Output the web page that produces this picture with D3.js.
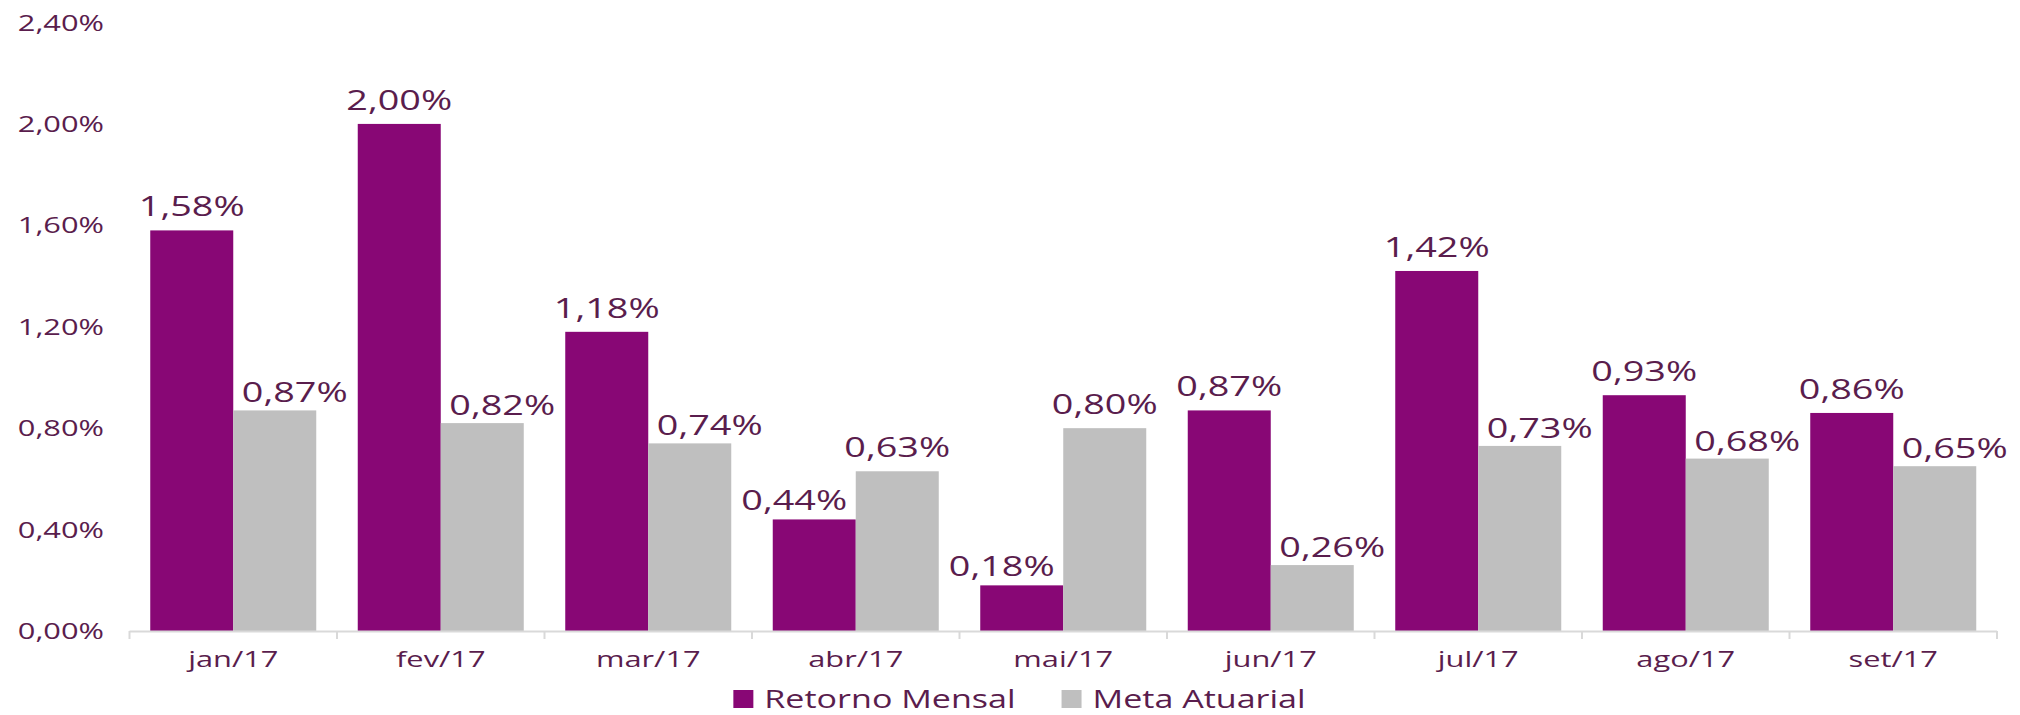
<!DOCTYPE html>
<html>
<head>
<meta charset="utf-8">
<script src="https://cdn.jsdelivr.net/npm/d3@7"></script>
<style>
  html, body { margin: 0; padding: 0; background: #fff; }
  svg { display: block; }
  text { font-family: "Open Sans", "Noto Sans", sans-serif; fill: #5a1d4d; }
</style>
</head>
<body>
<svg id="chart" width="2020" height="715"></svg>
<script>
// ---- data ----
const categories = ["jan/17", "fev/17", "mar/17", "abr/17", "mai/17", "jun/17", "jul/17", "ago/17", "set/17"];
const retornoMensal = [1.58, 2.00, 1.18, 0.44, 0.18, 0.87, 1.42, 0.93, 0.86];
const metaAtuarial = [0.87, 0.82, 0.74, 0.63, 0.80, 0.26, 0.73, 0.68, 0.65];
const seriesNames = ["Retorno Mensal", "Meta Atuarial"];
const yTicks = [0, 0.4, 0.8, 1.2, 1.6, 2.0, 2.4];

// ---- styling ----
const colors = ["#880775", "#bfbfbf"];
const textColor = "#5a1d4d";
const SX = 1.4; // horizontal stretch of glyphs seen in reference

const svg = d3.select("#chart");
const fmt = v => v.toFixed(2).replace(".", ",") + "%";

const x0 = d3.scaleBand().domain(categories).range([129.5, 1997]).paddingInner(0.2).paddingOuter(0.1);
const x1 = d3.scaleBand().domain(seriesNames).range([0, x0.bandwidth()]);
const y = d3.scaleLinear().domain([0, 2.4]).range([631, 22.5]);

function stretchedText(g, x, yy, str, size, anchor, sx) {
  return g.append("text")
    .attr("transform", `translate(${x},${yy}) scale(${sx || SX},1)`)
    .attr("text-anchor", anchor)
    .style("font-size", size + "px")
    .style("fill", textColor)
    .text(str);
}

// y labels (no axis line)
const gy = svg.append("g");
yTicks.forEach(t => stretchedText(gy, 104, y(t) + 8, fmt(t), 22, "end"));

// bars
const rows = categories.map((c, i) => ({c, vals: [retornoMensal[i], metaAtuarial[i]]}));
const gBars = svg.append("g");
rows.forEach(r => {
  r.vals.forEach((v, k) => {
    gBars.append("rect")
      .attr("x", x0(r.c) + x1(seriesNames[k]))
      .attr("y", y(v))
      .attr("width", x1.bandwidth())
      .attr("height", y(0) - y(v))
      .attr("fill", colors[k]);
  });
});

// x axis
const axisG = svg.append("g").attr("transform", `translate(0,${y(0)})`);
axisG.append("line").attr("x1", 129.5).attr("x2", 1997).attr("y1", 0.5).attr("y2", 0.5)
  .attr("stroke", "#d9d9d9").attr("stroke-width", 2);
const step = x0.step();
d3.range(categories.length + 1).forEach(i => {
  const xx = 129.5 + i * step;
  axisG.append("line").attr("x1", xx).attr("x2", xx).attr("y1", 0).attr("y2", 8)
    .attr("stroke", "#d9d9d9").attr("stroke-width", 2);
});
categories.forEach(c => stretchedText(svg, x0(c) + x0.bandwidth() / 2, 667, c, 22, "middle"));

// data labels: the label of the shorter bar of each pair is nudged outward (Excel overlap avoidance)
const gL = svg.append("g");
rows.forEach(r => {
  const [p, g] = r.vals;
  const pShort = p < g;
  const px = x0(r.c) + x1(seriesNames[0]) + x1.bandwidth() / 2 + (pShort ? -20 : 0);
  const gx = x0(r.c) + x1(seriesNames[1]) + x1.bandwidth() / 2 + (pShort ? 0 : 20);
  stretchedText(gL, px, y(p) - (pShort ? 9 : 14), fmt(p), 27, "middle");
  stretchedText(gL, gx, y(g) - (pShort ? 14 : 8), fmt(g), 27, "middle");
});

// legend
const LSX = 1.31;
const lg = svg.append("g");
const items = seriesNames.map((n, k) => {
  const t = stretchedText(lg, 0, 708, n, 26, "start", LSX);
  return {t, w: t.node().getComputedTextLength() * LSX, k};
});
const sq = 20, gap1 = 11, gap2 = 46;
const total = items.reduce((s, it) => s + sq + gap1 + it.w, 0) + gap2;
let cx = 1019.5 - total / 2;
items.forEach(it => {
  lg.append("rect").attr("x", cx).attr("y", 690).attr("width", sq).attr("height", 18).attr("fill", colors[it.k]);
  it.t.attr("transform", `translate(${cx + sq + gap1},708) scale(${LSX},1)`);
  cx += sq + gap1 + it.w + gap2;
});
</script>
</body>
</html>
